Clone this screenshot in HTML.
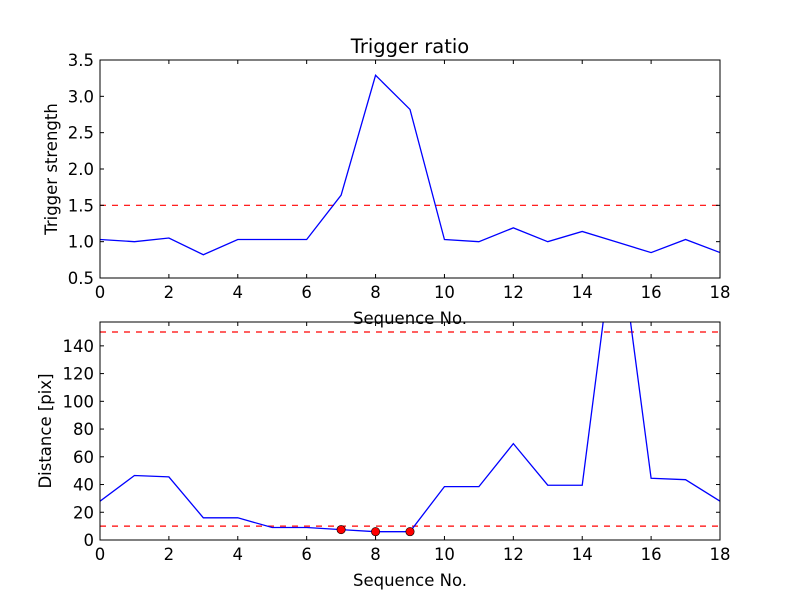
<!DOCTYPE html>
<html><head><meta charset="utf-8"><style>
html,body{margin:0;padding:0;background:#fff;}
svg text{font-family:"DejaVu Sans","Liberation Sans",sans-serif;fill:#000;}
</style></head><body>
<svg id="chart" width="800" height="600" xmlns="http://www.w3.org/2000/svg">
<rect x="0" y="0" width="800" height="600" fill="#fff"/>
</svg>
<script>
const seq = [0,1,2,3,4,5,6,7,8,9,10,11,12,13,14,15,16,17,18];
const ratio = [1.03,1.0,1.05,0.82,1.03,1.03,1.03,1.64,3.29,2.82,1.03,1.0,1.19,1.0,1.14,0.995,0.85,1.03,0.85];
const ratioThreshold = [1.5];
const distance = [28,46.5,45.5,16,16,9,9,7.5,6,6,38.5,38.5,69.5,39.5,39.5,233,44.5,43.5,28];
const distThresholds = [150,10];
const markedIdx = [7,8,9];
const xTicks = [0,2,4,6,8,10,12,14,16,18];
const yTicksTop = ["0.5","1.0","1.5","2.0","2.5","3.0","3.5"];
const yTicksBottom = ["0","20","40","60","80","100","120","140"];

const NS="http://www.w3.org/2000/svg";
const svg=document.getElementById('chart');
function mk(tag,attrs,parent){const e=document.createElementNS(NS,tag);for(const k in attrs)e.setAttribute(k,attrs[k]);(parent||svg).appendChild(e);return e;}

function panel(cfg){
  const L=100,R=720,T=cfg.top,B=cfg.bottom;
  const g=mk('g',{});
  
  
  const sx=v=>L+(v-0)/(18-0)*(R-L);
  const sy=v=>B-(v-cfg.ymin)/(cfg.ymax-cfg.ymin)*(B-T);
  const cp=mk('clipPath',{id:cfg.name+'-clip'},g);
  mk('rect',{x:L,y:T,width:R-L,height:B-T},cp);
  const pg=mk('g',{'clip-path':'url(#'+cfg.name+'-clip)'},g);
  cfg.thresholds.forEach(t=>{
    const l=mk('line',{x1:L,x2:R,y1:sy(t),y2:sy(t),stroke:'#f00','stroke-width':1.2,'stroke-dasharray':'6,6'},pg);
    
    
  });
  const pts=seq.map((x,i)=>sx(x).toFixed(2)+','+sy(cfg.values[i]).toFixed(2)).join(' ');
  const pl=mk('polyline',{points:pts,fill:'none',stroke:'#00f','stroke-width':1.3},pg);
  
  
  (cfg.marks||[]).forEach(i=>{
    const c=mk('circle',{cx:sx(seq[i]),cy:sy(cfg.values[i]),r:4.2,fill:'#f00',stroke:'#000','stroke-width':0.6},pg);
    
    
  });
  const fr=mk('rect',{x:L,y:T,width:R-L,height:B-T,fill:'none',stroke:'#000','stroke-width':1},g);
  
  
  xTicks.forEach(t=>{
    const x=sx(t);
    mk('line',{x1:x,x2:x,y1:B,y2:B-4,stroke:'#000'},g);
    mk('line',{x1:x,x2:x,y1:T,y2:T+4,stroke:'#000'},g);
    const tx=mk('text',{x:x,y:B+20,'font-size':16.5,'text-anchor':'middle'},g);
    tx.textContent=t;
    
    
  });
  cfg.yTicks.forEach(s=>{
    const y=sy(parseFloat(s));
    mk('line',{x1:L,x2:L+4,y1:y,y2:y,stroke:'#000'},g);
    mk('line',{x1:R,x2:R-4,y1:y,y2:y,stroke:'#000'},g);
    const tx=mk('text',{x:L-6,y:y+6,'font-size':16.5,'text-anchor':'end'},g);
    tx.textContent=s;
    
    
  });
  const xl=mk('text',{x:(L+R)/2,y:B+46,'font-size':16.5,'text-anchor':'middle'},g);
  xl.textContent='Sequence No.';
  
  
  const yl=mk('text',{x:0,y:0,'font-size':16.5,'text-anchor':'middle',transform:'translate('+cfg.ylabelX+','+((T+B)/2)+') rotate(-90)'},g);
  yl.textContent=cfg.ylabel;
  
  
  if(cfg.title){
    const tt=mk('text',{x:(L+R)/2,y:T-7,'font-size':19.5,'text-anchor':'middle'},g);
    tt.textContent=cfg.title;
    
    
  }
}
panel({name:'trigger-ratio-panel',top:60,bottom:278,ymin:0.5,ymax:3.5,values:ratio,thresholds:ratioThreshold,yTicks:yTicksTop,ylabel:'Trigger strength',ylabelX:57,title:'Trigger ratio'});
panel({name:'distance-panel',top:322,bottom:540,ymin:0,ymax:157.2,values:distance,thresholds:distThresholds,yTicks:yTicksBottom,ylabel:'Distance [pix]',ylabelX:51,marks:markedIdx});
</script>
</body></html>
